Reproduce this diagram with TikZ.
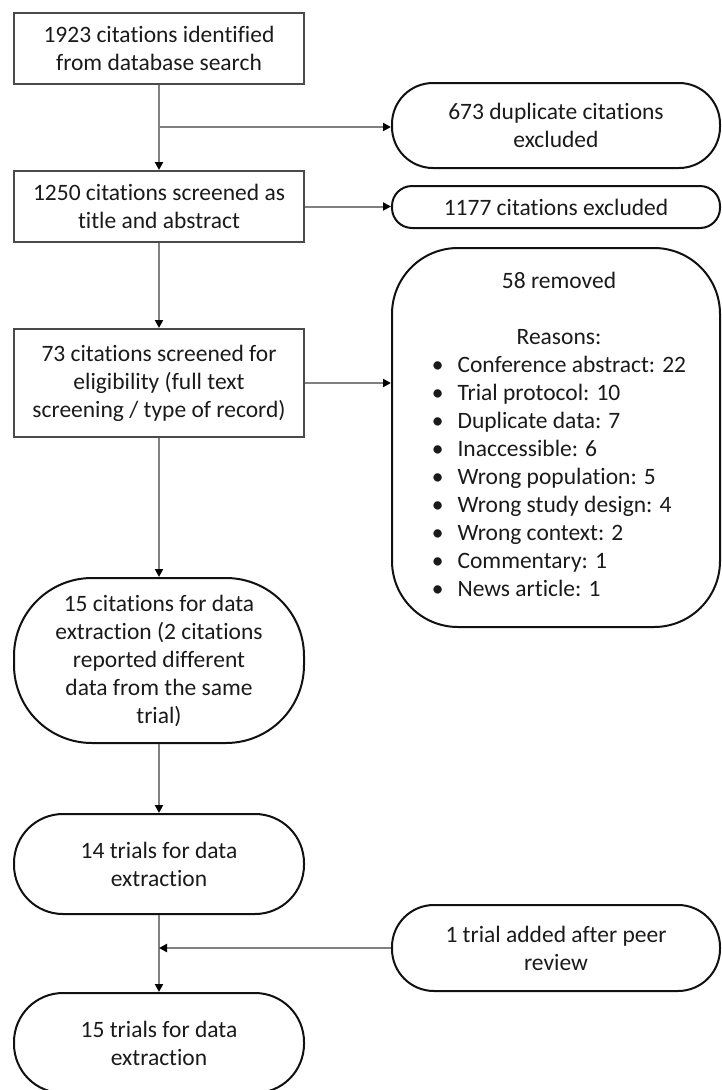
\documentclass[tikz,border=0pt]{standalone}
\usepackage{fontspec}
\setmainfont{Carlito}[Ligatures=NoCommon]
\usetikzlibrary{arrows.meta}
\definecolor{txt}{HTML}{1A1A1A}
\definecolor{rectline}{HTML}{4A4A4A}
\definecolor{pillline}{HTML}{111111}
\definecolor{conn}{HTML}{808080}
\tikzset{
  x=1pt, y=-1pt,
  every node/.style={font=\fontsize{23.5}{28}\selectfont, text=txt, align=center, inner sep=0pt},
  rectbox/.style={draw=rectline, line width=2pt, minimum width=290pt},
  pill/.style={draw=pillline, line width=2pt},
  conline/.style={draw=conn, line width=2pt, -{Triangle[width=8pt,length=8pt,fill=black,color=black]}}
}
\begin{document}
\begin{tikzpicture}
\useasboundingbox (0,0) rectangle (722,1090);
% left column
\node[rectbox, minimum height=71pt] (b1) at (159,48.5) {1923 citations identified\\from database search};
\node[rectbox, minimum height=71pt] (b2) at (159,206.5) {1250 citations screened as\\title and abstract};
\node[rectbox, minimum height=108pt] (b3) at (159,383) {73 citations screened for\\eligibility (full text\\screening / type of record)};
\node[pill, rounded corners=78pt, minimum width=290pt, minimum height=165pt] (p15c) at (159,660.5) {15 citations for data\\extraction (2 citations\\reported different\\data from the same\\trial)};
\node[pill, rounded corners=49pt, minimum width=290pt, minimum height=100pt] (p14) at (159,864) {14 trials for data\\extraction};
\node[pill, rounded corners=49pt, minimum width=290pt, minimum height=100pt] (p15t) at (159,1043) {15 trials for data\\extraction};
% right column
\node[pill, rounded corners=41pt, minimum width=328pt, minimum height=85pt] (dup) at (556,125.5) {673 duplicate citations\\excluded};
\node[pill, rounded corners=20pt, minimum width=328pt, minimum height=42pt] (exc) at (556,207) {1177 citations excluded};
\node[pill, rounded corners=66pt, minimum width=328pt, minimum height=379pt] (rem) at (556,437.5) {};
\node (remtxt) at (559,437) {\renewcommand{\arraystretch}{1}\setlength{\tabcolsep}{0pt}%
\begin{tabular}{@{}c@{\hspace{14pt}}l@{}}
\multicolumn{2}{c}{58 removed}\\
\multicolumn{2}{c}{}\\
\multicolumn{2}{c}{Reasons:}\\
\textbullet & Conference abstract: 22\\
\textbullet & Trial protocol: 10\\
\textbullet & Duplicate data: 7\\
\textbullet & Inaccessible: 6\\
\textbullet & Wrong population: 5\\
\textbullet & Wrong study design: 4\\
\textbullet & Wrong context: 2\\
\textbullet & Commentary: 1\\
\textbullet & News article: 1
\end{tabular}};
\node[pill, rounded corners=42pt, minimum width=328pt, minimum height=86pt] (add) at (556,948) {1 trial added after peer\\review};
% connectors
\coordinate (j1) at (159,127);
\coordinate (j2) at (159,948);
\draw[conline] (b1.south) -- (b2.north);
\draw[conline] (j1) -- (dup.west |- j1);
\draw[conline] (b2.east) -- (exc.west |- b2.east);
\draw[conline] (b2.south) -- (b3.north);
\draw[conline] (b3.east) -- (rem.west |- b3.east);
\draw[conline] (b3.south) -- (p15c.north);
\draw[conline] (p15c.south) -- (p14.north);
\draw[conline] (p14.south) -- (p15t.north);
\draw[conline] (add.west) -- (j2);
\end{tikzpicture}
\end{document}
